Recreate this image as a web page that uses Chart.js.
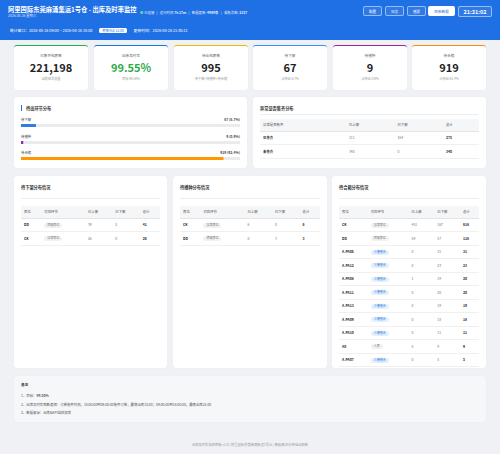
<!DOCTYPE html>
<html><head><meta charset="utf-8">
<script src="https://cdn.jsdelivr.net/npm/chart.js@4"></script>
<style>
*{box-sizing:border-box;margin:0;padding:0}
body{width:500px;height:454px;background:#eff1f5;font-family:"Noto Sans CJK SC","Noto Sans",sans-serif;color:#333;position:relative;overflow:hidden}
.hd{position:absolute;left:0;top:0;width:500px;height:40px;background:#1f6fe5;color:#fff}
.ab{position:absolute}
.card{position:absolute;background:#fff;border-radius:3px;box-shadow:0 0 1px rgba(0,0,0,.08)}
.kpi{top:45px;height:45px;width:74px;text-align:center;border-top:1.5px solid}
.kpi .l{font-size:3.6px;color:#666;margin-top:7px}
.kpi .v{font-size:11px;font-weight:700;color:#222;line-height:12px;margin-top:3px}
.kpi .s{font-size:3.2px;color:#999;margin-top:3px}
.btn{position:absolute;top:6px;height:10px;border:0.5px solid rgba(255,255,255,.5);border-radius:2px;font-size:3.6px;line-height:9px;text-align:center;background:rgba(255,255,255,.08)}
.ttl{font-size:4.2px;font-weight:700;color:#333}
table{border-collapse:collapse;width:100%;font-size:3.4px}
th{background:#f5f6f8;color:#555;font-weight:400;text-align:left;height:12px;padding-left:3px;border-bottom:0.6px solid #e2e4e8}
td{height:13.5px;padding-left:3px;color:#777;border-bottom:0.4px solid #f0f0f0}
td.b{font-weight:700;color:#222}
.tag{display:inline-block;padding:0 3px;border-radius:3px;background:#f1f1f1;color:#777;font-size:3px;line-height:5px}
.tag.t{background:#e3f0fe;color:#2f7de1}
.row{position:absolute;left:7px;width:219px;font-size:3.4px;color:#444}
.row span{float:right;font-weight:700}
.row div{margin-top:2px;height:3px}
</style></head><body>
<div class="hd">
 <div class="ab" style="left:8px;top:5px;font-size:6.3px;font-weight:700">阿里国际东莞麻涌集运1号仓 - 出库及时率监控</div>
 <div class="ab" style="left:8px;top:13px;font-size:3.4px;opacity:.8">2026-08-26 星期三</div>
 <div class="ab" style="left:140px;top:10px;font-size:3.4px;opacity:.9"><span style="color:#5ee38a">●</span> 已连接 &nbsp;&nbsp;| &nbsp;&nbsp;运行时间 <b>7h 17m</b> &nbsp;&nbsp;| &nbsp;&nbsp;数据更新: <b>4989条</b> &nbsp;&nbsp;| &nbsp;&nbsp;采集次数: <b>2327</b></div>
 <div class="btn" style="left:363px;width:19px">配置</div>
 <div class="btn" style="left:385px;width:19px">日志</div>
 <div class="btn" style="left:407px;width:19px">播报</div>
 <div class="btn" style="left:428px;width:27px;background:#fff;color:#1f6fe5">刷新数据</div>
 <div class="btn" style="left:458px;width:34px;height:11px;font-size:5.5px;font-weight:700;line-height:10px">21:31:02</div>
 <div class="ab" style="left:10px;top:28px;font-size:3.8px">统计窗口：2026-08-26 09:00 ~ 2026-08-26 18:00
  <span style="background:#fff;color:#1f6fe5;border-radius:1.5px;padding:0 3px;margin-left:6px;font-size:3.2px">考核节点 22:00</span>
  <span style="margin-left:6px">更新时间：2026-08-26 21:30:11</span></div>
</div>
<div id="kpis"></div>
<div class="card" style="left:14px;top:97px;width:233px;height:71px">
 <div class="ab ttl" style="left:7px;top:8px;border-left:1px solid #1f6fe5;padding-left:4px">待出环节分布</div>
 <div id="bars"></div>
</div>
<div class="card" style="left:253px;top:97px;width:233px;height:71px">
 <div class="ab ttl" style="left:7px;top:8px">异常是否集齐分布</div>
 <div class="ab" style="left:7px;top:17px;width:219px;border-top:0.4px solid #eee"></div>
 <div class="ab" style="left:7px;top:22px;width:219px"><table id="t0"></table></div>
</div>
<div class="card" style="left:14px;top:176px;width:153px;height:192px"><div class="ab ttl" style="left:7px;top:8px">待下架分布情况</div><div class="ab" style="left:7px;top:22px;width:139px;border-top:.4px solid #eee;padding-top:7px"><table id="t1"></table></div></div>
<div class="card" style="left:173px;top:176px;width:154px;height:192px"><div class="ab ttl" style="left:7px;top:8px">待播种分布情况</div><div class="ab" style="left:7px;top:22px;width:140px;border-top:.4px solid #eee;padding-top:7px"><table id="t2"></table></div></div>
<div class="card" style="left:332px;top:176px;width:154px;height:192px"><div class="ab ttl" style="left:7px;top:8px">待合箱分布情况</div><div class="ab" style="left:7px;top:22px;width:140px;border-top:.4px solid #eee;padding-top:7px"><table id="t3"></table></div></div>
<div class="card" style="left:14px;top:376px;width:472px;height:46px;background:#f6f7f9">
 <div class="ab" style="left:7px;top:6px;font-size:3.6px;font-weight:700">备注</div>
 <div class="ab" style="left:7px;top:16px;font-size:3.4px;color:#555;line-height:8.5px">1、目标：<b>99.50%</b><br>2、出库及时率取数逻辑：订单集齐时间，18:00:00到09:00:00集齐订单，最晚出库13:00；09:00:00到18:00:00，最晚出库22:00<br>3、数据来源：出库&KPI监控报表</div>
</div>
<div class="ab" style="left:0;top:442px;width:500px;text-align:center;font-size:3.3px;color:#999">出库及时率监控面板 v1.0 | 阿里国际东莞麻涌集运1号仓 | 数据每30分钟自动刷新</div>
<script>
// KPI
const kpiLabels = ["已集齐包裹数", "出库及时率", "待出包裹数", "待下架", "待播种", "待合箱"];
const kpiValues = ["221,198", "99.55%", "995", "67", "9", "919"];
const kpiSubs = ["当前班次总量", "目标 99.50%", "待下架+待播种+待合箱", "占待出 6.7%", "占待出 0.9%", "占待出 92.4%"];
const kpiColors = ["#2eaa4a", "#1a73e8", "#f5b800", "#3d8bfd", "#a020a0", "#ff8c00"];
const kpiX = [14, 94, 174, 253, 333, 412];

// 待出环节分布
const stageLabels = ["待下架", "待播种", "待合箱"];
const stageValues = [67, 9, 919];
const stageText = ["67 (6.7%)", "9 (0.9%)", "919 (92.4%)"];
const stageColors = ["#2f7de1", "#9c27b0", "#ff9800"];
const stageTotal = 995;

// tables
const t0Head = ["异常是否集齐", "已上架", "已下架", "总计"];
const t0Rows = [["已集齐", 111, 164, 275], ["未集齐", 340, 0, 340]];
const tHead = ["库位", "对应环节", "已上架", "已下架", "总计"];
const t1Rows = [["DD", "增现库位", 39, 2, 41], ["CK", "异常库位", 26, 0, 26]];
const t2Rows = [["CK", "异常库位", 6, 0, 6], ["DD", "增现库位", 0, 3, 3]];
const t3Rows = [["CK", "异常库位", 451, 167, 618], ["DD", "增现库位", 59, 57, 116], ["A-PA06", "三楼播合", 0, 31, 31],
  ["A-PA12", "三楼播合", 0, 23, 23], ["A-PA08", "三楼播合", 1, 19, 20], ["A-PA11", "三楼播合", 0, 20, 20],
  ["A-PA13", "三楼播合", 0, 19, 19], ["A-PA09", "三楼播合", 0, 18, 18], ["A-PA10", "三楼播合", 0, 11, 11],
  ["A0", "入库", 0, 9, 9], ["A-PA07", "三楼播合", 0, 5, 5]];

let h = "";
kpiLabels.forEach((l, i) => {
  h += `<div class="card kpi" style="left:${kpiX[i]}px;border-top-color:${kpiColors[i]}"><div class="l">${l}</div>
  <div class="v" style="${i == 1 ? "color:#2eaa4a" : ""}">${kpiValues[i]}</div><div class="s">${kpiSubs[i]}</div></div>`;
});
document.getElementById("kpis").innerHTML = h;

const fillTable = (id, head, rows, tagCol) => {
  let s = "<tr>" + head.map((x) => `<th>${x}</th>`).join("") + "</tr>";
  rows.forEach((r) => {
    s += "<tr>" + r.map((c, j) => {
      if (j == 0 && tagCol) return `<td class="b">${c}</td>`;
      if (j == 0) return `<td style="color:#333;font-weight:600">${c}</td>`;
      if (j == tagCol) return `<td><span class="tag ${c == "三楼播合" ? "t" : ""}">${c}</span></td>`;
      if (j == r.length - 1) return `<td class="b">${c}</td>`;
      return `<td>${c}</td>`;
    }).join("") + "</tr>";
  });
  document.getElementById(id).innerHTML = s;
};
fillTable("t0", t0Head, t0Rows, 0);
fillTable("t1", tHead, t1Rows, 1);
fillTable("t2", tHead, t2Rows, 1);
fillTable("t3", tHead, t3Rows, 1);

// 进度条
const bars = document.getElementById("bars");
stageLabels.forEach((l, i) => {
  const d = document.createElement("div");
  d.className = "row";
  d.style.top = 20 + i * 16.5 + "px";
  d.innerHTML = `${l}<span>${stageText[i]}</span><div><canvas id="c${i}"></canvas></div>`;
  bars.appendChild(d);
  new Chart(document.getElementById("c" + i), {
    type: "bar",
    data: {
      labels: [l],
      datasets: [
        {data: [stageValues[i]], backgroundColor: stageColors[i], borderRadius: 1.5, borderSkipped: false, barPercentage: 1, categoryPercentage: 1, grouped: false, order: 0},
        {data: [stageTotal], backgroundColor: "#e9ecef", borderRadius: 1.5, borderSkipped: false, barPercentage: 1, categoryPercentage: 1, grouped: false, order: 1},
      ],
    },
    options: {
      indexAxis: "y",
      responsive: true,
      maintainAspectRatio: false,
      animation: false,
      layout: {padding: 0},
      plugins: {legend: {display: false}, tooltip: {enabled: false}},
      scales: {x: {display: false, min: 0, max: stageTotal}, y: {display: false}},
    },
  });
});
</script>
</body></html>
